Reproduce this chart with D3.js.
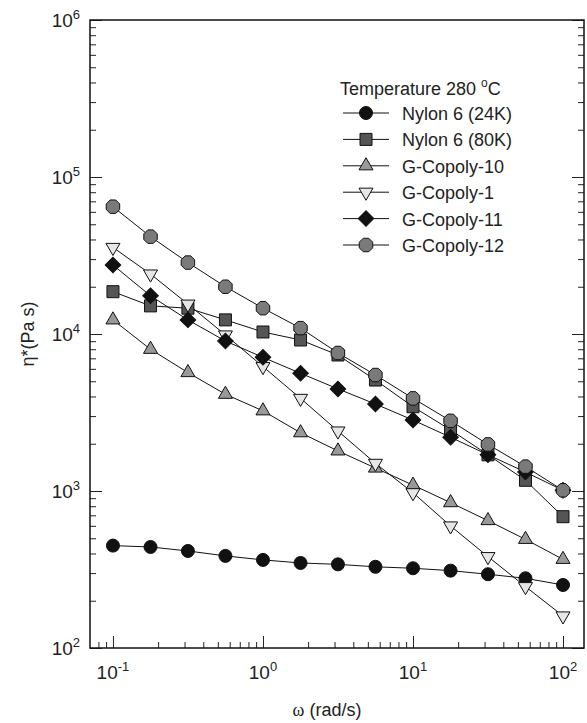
<!DOCTYPE html>
<html lang="en">
<head>
<meta charset="utf-8">
<title>Complex viscosity vs frequency, 280 C</title>
<script src="https://d3js.org/d3.v7.min.js"></script>
<style>
  body { margin: 0; background: white; }
  svg { display: block; font-family: "Liberation Sans", Arial, sans-serif; }
</style>
</head>
<body>
<script>
// angular frequency (rad/s), shared by every series
var omega = [0.1, 0.178, 0.316, 0.562, 1, 1.78, 3.16, 5.62, 10, 17.8, 31.6, 56.2, 100];

// complex viscosity eta* (Pa s)
var nylon24k = [449, 440, 415, 386, 364, 348, 341, 329, 322, 311, 295, 278, 252];
var nylon80k = [18600, 15100, 14600, 12300, 10300, 9160, 7350, 5090, 3440, 2450, 1700, 1170, 686];
var gcopoly10 = [12300, 7990, 5680, 4130, 3240, 2350, 1800, 1400, 1090, 843, 648, 492, 367];
var gcopoly1 = [35600, 24100, 15500, 9860, 6200, 3890, 2410, 1500, 975, 599, 382, 246, 160];
var gcopoly11 = [27500, 17500, 12300, 9020, 7100, 5620, 4470, 3580, 2830, 2200, 1700, 1320, 1010];
var gcopoly12 = [64700, 41700, 28500, 20000, 14600, 10900, 7570, 5480, 3890, 2800, 1980, 1430, 1010];

var seriesNames = ["Nylon 6 (24K)", "Nylon 6 (80K)", "G-Copoly-10", "G-Copoly-1", "G-Copoly-11", "G-Copoly-12"];
var seriesValues = [nylon24k, nylon80k, gcopoly10, gcopoly1, gcopoly11, gcopoly12];

var yTicks = [1e2, 1e3, 1e4, 1e5, 1e6];
var xTicks = [0.1, 1, 10, 100];
var legendTitle = "Temperature 280 ";

var w = 587, h = 723;
// plot box edges (note: "top" is reserved on window)
var boxL = 90, boxR = 584, boxT = 20, boxB = 648;

var svg = d3.select("body").append("svg")
    .attr("width", w)
    .attr("height", h);

var x = d3.scaleLog().domain([0.0703, 138]).range([boxL, boxR]);
var y = d3.scaleLog().domain([1e2, 1e6]).range([boxB, boxT]);

// octagon-ish marker used for G-Copoly-12
var symbolOctagon = {
  draw: function(ctx, size) {
    var r = Math.sqrt(size / 2.83);
    for (var i = 0; i < 8; i++) {
      var a = Math.PI / 8 + i * Math.PI / 4;
      if (i == 0) ctx.moveTo(r * Math.cos(a), r * Math.sin(a));
      else ctx.lineTo(r * Math.cos(a), r * Math.sin(a));
    }
    ctx.closePath();
  }
};

// marker style for each series
var markers = [
  { type: d3.symbolCircle, size: 133, fill: "#111", rotate: 0 },
  { type: d3.symbolSquare, size: 144, fill: "#555", rotate: 0 },
  { type: d3.symbolTriangle, size: 85, fill: "#999", rotate: 0 },
  { type: d3.symbolTriangle, size: 85, fill: "#e6e6e6", rotate: 180 },
  { type: d3.symbolSquare, size: 121, fill: "#111", rotate: 45 },
  { type: symbolOctagon, size: 150, fill: "#7a7a7a", rotate: 0 }
];

// axes: major ticks inward, minor ticks shorter
function minor(v) {
  var l = Math.log10(v);
  return Math.abs(l - Math.round(l)) > 1e-6;
}

svg.append("g")
    .attr("transform", "translate(" + boxL + ",0)")
    .call(d3.axisLeft(y).tickValues(y.ticks().filter(minor)).tickSize(-6).tickFormat(""))
    .call(function(g) { g.select(".domain").remove(); });
svg.append("g")
    .attr("transform", "translate(" + boxL + ",0)")
    .call(d3.axisLeft(y).tickValues(yTicks).tickSize(-12).tickFormat(""))
    .call(function(g) { g.select(".domain").remove(); });

svg.append("g")
    .attr("transform", "translate(0," + boxB + ")")
    .call(d3.axisBottom(x).tickValues(x.ticks().filter(minor)).tickSize(-6).tickFormat(""))
    .call(function(g) { g.select(".domain").remove(); });
svg.append("g")
    .attr("transform", "translate(0," + boxB + ")")
    .call(d3.axisBottom(x).tickValues(xTicks).tickSize(-12).tickFormat(""))
    .call(function(g) { g.select(".domain").remove(); });

// right side ticks
svg.append("g")
    .attr("transform", "translate(" + boxR + ",0)")
    .call(d3.axisRight(y).tickValues(y.ticks().filter(minor)).tickSize(-6).tickFormat(""))
    .call(function(g) { g.select(".domain").remove(); });
svg.append("g")
    .attr("transform", "translate(" + boxR + ",0)")
    .call(d3.axisRight(y).tickValues(yTicks).tickSize(-12).tickFormat(""))
    .call(function(g) { g.select(".domain").remove(); });

svg.selectAll(".tick line").attr("stroke", "#222").attr("stroke-width", 1);

// frame
svg.append("rect")
    .attr("x", boxL)
    .attr("y", boxT)
    .attr("width", boxR - boxL)
    .attr("height", boxB - boxT)
    .attr("fill", "none")
    .attr("stroke", "#111")
    .attr("stroke-width", 1.5);

// tick labels, 10 with superscript exponent
svg.selectAll(".ylab")
    .data(yTicks)
    .enter().append("text")
    .attr("class", "ylab")
    .attr("x", boxL - 10)
    .attr("y", function(d) { return y(d) + 7; })
    .attr("text-anchor", "end")
    .attr("font-size", 19)
    .attr("fill", "#222")
    .each(function(d) {
      var t = d3.select(this);
      t.append("tspan").text("10");
      t.append("tspan").attr("font-size", 13).attr("dy", -8).text(Math.round(Math.log10(d)));
    });

svg.selectAll(".xlab")
    .data(xTicks)
    .enter().append("text")
    .attr("class", "xlab")
    .attr("x", function(d) { return x(d); })
    .attr("y", boxB + 31)
    .attr("text-anchor", "middle")
    .attr("font-size", 19)
    .attr("fill", "#222")
    .each(function(d) {
      var t = d3.select(this);
      t.append("tspan").text("10");
      t.append("tspan").attr("font-size", 13).attr("dy", -8).text(Math.round(Math.log10(d)));
    });

// axis titles
svg.append("text")
    .attr("x", 327)
    .attr("y", 716)
    .attr("text-anchor", "middle")
    .attr("font-size", 18)
    .attr("fill", "#222")
    .call(function(t) {
      t.append("tspan").attr("font-family", "Liberation Serif, serif").text("\u03c9");
      t.append("tspan").text(" (rad/s)");
    });

svg.append("text")
    .attr("transform", "translate(34,334) rotate(-90)")
    .attr("text-anchor", "middle")
    .attr("font-size", 18)
    .attr("fill", "#222")
    .text("\u03b7*(Pa s)");

// data lines
var line = d3.line()
    .x(function(d, i) { return x(omega[i]); })
    .y(function(d) { return y(d); });

svg.selectAll(".series")
    .data(seriesValues)
    .enter().append("path")
    .attr("class", "series")
    .attr("d", line)
    .attr("fill", "none")
    .attr("stroke", "#111")
    .attr("stroke-width", 1);

// markers
seriesValues.forEach(function(vals, s) {
  var m = markers[s];
  svg.append("g").selectAll("path")
      .data(vals)
      .enter().append("path")
      .attr("d", d3.symbol().type(m.type).size(m.size))
      .attr("transform", function(d, i) {
        return "translate(" + x(omega[i]) + "," + y(d) + ") rotate(" + m.rotate + ")";
      })
      .attr("fill", m.fill)
      .attr("stroke", "#111")
      .attr("stroke-width", 1);
});

// legend
var legend = svg.append("g");
legend.append("text")
    .attr("x", 340)
    .attr("y", 95)
    .attr("font-size", 18)
    .attr("fill", "#222")
    .call(function(t) {
      t.append("tspan").text(legendTitle);
      t.append("tspan").attr("font-size", 12).attr("dy", -8).text("o");
      t.append("tspan").attr("dy", 8).text("C");
    });

var rowY = d3.scaleLinear().domain([0, 5]).range([113, 245]);
seriesNames.forEach(function(name, s) {
  var m = markers[s];
  var yy = rowY(s);
  legend.append("line")
      .attr("x1", 343).attr("x2", 389)
      .attr("y1", yy).attr("y2", yy)
      .attr("stroke", "#111")
      .attr("stroke-width", 1);
  legend.append("path")
      .attr("d", d3.symbol().type(m.type).size(m.size))
      .attr("transform", "translate(366," + yy + ") rotate(" + m.rotate + ")")
      .attr("fill", m.fill)
      .attr("stroke", "#111")
      .attr("stroke-width", 1);
  legend.append("text")
      .attr("x", 402)
      .attr("y", yy + 7)
      .attr("font-size", 18)
      .attr("fill", "#222")
      .text(name);
});
</script>
</body>
</html>
